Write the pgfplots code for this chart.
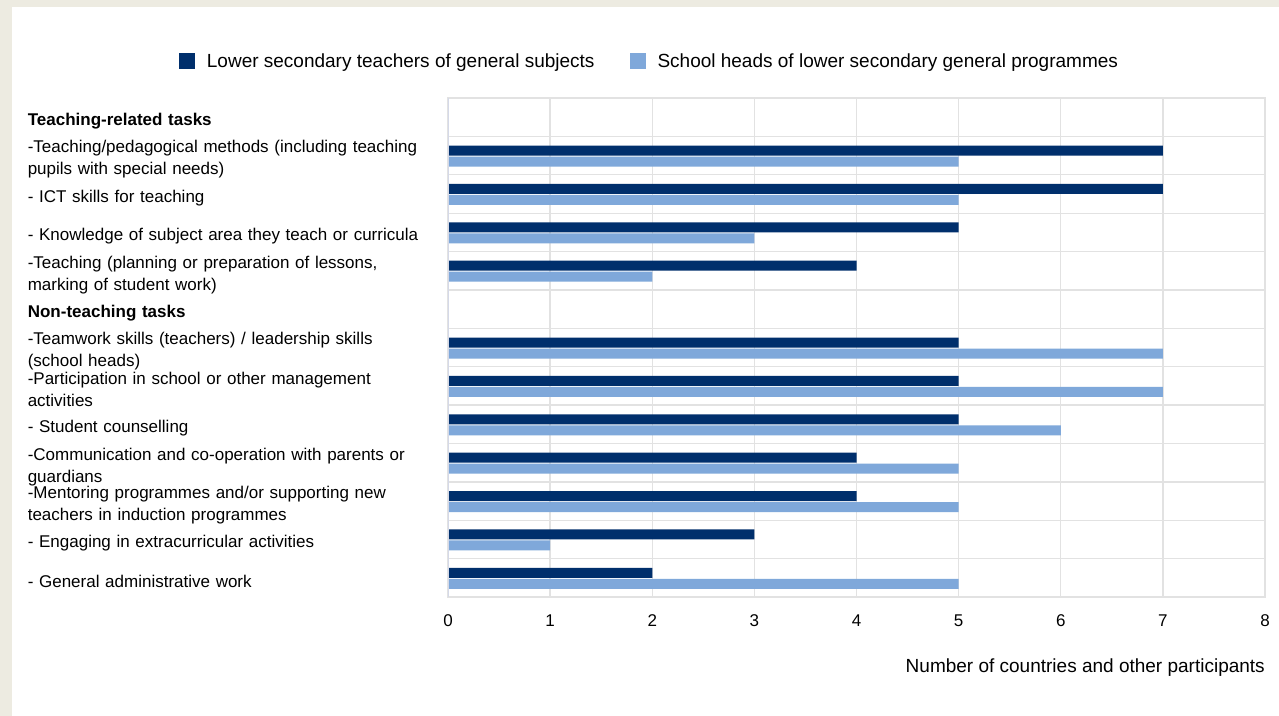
\documentclass[border=0pt]{standalone}
\usepackage{pgfplots}
\pgfplotsset{compat=1.18}
\usepackage{fontspec}
\setmainfont{Liberation Sans}
\definecolor{bgc}{HTML}{EDEBE1}
\definecolor{darkc}{HTML}{002F6C}
\definecolor{lightc}{HTML}{7FA8DA}
\definecolor{gridc}{HTML}{E2E2E2}
\definecolor{leftc}{HTML}{D5D9E8}
\begin{document}
\begin{tikzpicture}
\fill[bgc] (0,0) rectangle (1279bp,716bp);
\fill[white] (12bp,0) rectangle (1279bp,709bp);
\begin{axis}[
  at={(448bp,119bp)}, anchor=south west,
  scale only axis, width=817bp, height=499bp,
  xmin=0, xmax=8, ymin=-0.5, ymax=12.5,
  y dir=reverse,
  xbar,
  xtick={0,1,...,8},
  ytick={0,1,...,12},
  minor ytick={0.5,1.5,...,11.5},
  xmajorgrids, yminorgrids, ymajorgrids=false,
  grid style={draw=gridc, line width=1.3bp},
  minor grid style={draw=gridc, line width=1.3bp},
  axis line style={draw=gridc, line width=1.3bp},
  major tick length=0pt, minor tick length=0pt,
  /pgf/number format/assume math mode=true,
  xticklabel style={font=\fontsize{17bp}{20bp}\selectfont, inner sep=0pt, anchor=base, yshift=-29bp},
  yticklabel style={font=\fontsize{17bp}{22bp}\selectfont, anchor=east, text width=420bp, align=left, inner sep=0pt, yshift=-4bp},
  yticklabels={{\textbf{Teaching-related tasks}},
    {-Teaching/pedagogical methods (including teaching\\pupils with special needs)},
    {- ICT skills for teaching},
    {- Knowledge of subject area they teach or curricula},
    {-Teaching (planning or preparation of lessons,\\marking of student work)},
    {\textbf{Non-teaching tasks}},
    {-Teamwork skills (teachers) / leadership skills\\(school heads)},
    {-Participation in school or other management\\activities},
    {- Student counselling},
    {-Communication and co-operation with parents or\\guardians},
    {-Mentoring programmes and/or supporting new\\teachers in induction programmes},
    {- Engaging in extracurricular activities},
    {- General administrative work}},
  xlabel={Number of countries and other participants},
  xlabel style={at={(rel axis cs:1,0)}, anchor=north east, inner sep=0pt, yshift=-62bp, font=\fontsize{19bp}{22bp}\selectfont},
  legend style={at={(rel axis cs:0.2466,1.074)}, anchor=center, draw=none, fill=none,
    legend columns=2, font=\fontsize{19bp}{22bp}\selectfont,
    /tikz/every odd column/.append style={column sep=10bp},
    /tikz/every even column/.append style={column sep=33bp}},
  legend image code/.code={\fill[#1] (0bp,-8bp) rectangle (16bp,8bp);},
]
\addplot[xbar, bar width=10bp, bar shift=5bp, fill=darkc, draw=none]
  coordinates {(7,1) (7,2) (5,3) (4,4) (5,6) (5,7) (5,8) (4,9) (4,10) (3,11) (2,12)};
\addlegendentry{Lower secondary teachers of general subjects}
\addplot[xbar, bar width=10bp, bar shift=-6bp, fill=lightc, draw=none]
  coordinates {(5,1) (5,2) (3,3) (2,4) (7,6) (7,7) (6,8) (5,9) (5,10) (1,11) (5,12)};
\addlegendentry{School heads of lower secondary general programmes}
\draw[leftc, line width=2bp] (rel axis cs:0,0) -- (rel axis cs:0,1);
\end{axis}
\end{tikzpicture}
\end{document}
